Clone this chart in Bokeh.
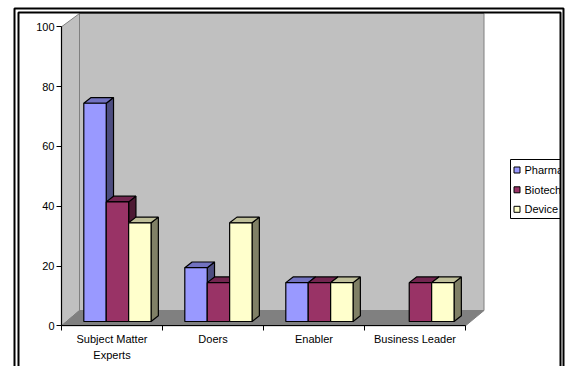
from bokeh.embed import file_html
from bokeh.models import FixedTicker, LinearAxis
from bokeh.plotting import figure
from bokeh.resources import INLINE
from bokeh.core.properties import value

# Chart values
categories = ["Subject Matter\nExperts", "Doers", "Enabler", "Business Leader"]
series_names = ["Pharma", "Biotech", "Device"]
pharma = [73, 18, 13, 0]
biotech = [40, 13, 13, 13]
device = [33, 33, 13, 13]
y_ticks = [0, 20, 40, 60, 80, 100]

# Face colours per series: front, top, side
front_colors = ["#9999FF", "#993366", "#FFFFCC"]
top_colors = ["#7272C0", "#732650", "#BFBF99"]
side_colors = ["#4D4D80", "#4D1A33", "#808066"]

WIDTH, HEIGHT = 568, 366
X0_PX, Y0_PX = 61.0, 325.3   # where the axes cross
PX_PER_CAT = 101.0
PX_PER_UNIT = 2.99
FONT = "Liberation Sans"


def dx(px):
    return px / PX_PER_CAT


def dy(px):
    return px / PX_PER_UNIT


def X(px):
    return (px - X0_PX) / PX_PER_CAT


def Y(py):
    return (Y0_PX - py) / PX_PER_UNIT


p = figure(
    width=WIDTH, height=HEIGHT, output_backend="svg", toolbar_location=None,
    x_range=(X(0), X(WIDTH)), y_range=(Y(HEIGHT), Y(0)),
    x_axis_type=None, y_axis_type=None, min_border=0,
    outline_line_color=None, background_fill_color="white",
)
p.xgrid.visible = False
p.ygrid.visible = False

# Chart box: back wall, left wall, floor
wall_back, floor_y = X(79), Y(310)
wall_right, wall_top = X(483.5), Y(13)
p.patches(
    xs=[[wall_back, wall_right, wall_right, wall_back],
        [0, wall_back, wall_back, 0],
        [0, 4, wall_right, wall_back]],
    ys=[[floor_y, floor_y, wall_top, wall_top],
        [0, floor_y, wall_top, 100],
        [0, 0, floor_y, floor_y]],
    fill_color=["#C0C0C0", "#C0C0C0", "#808080"],
    line_color="#808080", line_width=1,
)

# 3D bars, painted left to right so nearer faces overlap correctly
BAR_W = 0.222
BAR_START = 0.2208
BASE = dy(Y0_PX - 321)
DEPTH_X, DEPTH_Y = dx(7.3), dy(5.7)
xs, ys, fills = [], [], []
for c in range(len(categories)):
    for s, values in enumerate([pharma, biotech, device]):
        v = values[c]
        if v == 0:
            continue
        l = c + BAR_START + s * BAR_W
        r = l + BAR_W
        t = BASE + v
        xs += [[r, r + DEPTH_X, r + DEPTH_X, r],
               [l, l + DEPTH_X, r + DEPTH_X, r],
               [l, r, r, l]]
        ys += [[BASE, BASE + DEPTH_Y, t + DEPTH_Y, t],
               [t, t + DEPTH_Y, t + DEPTH_Y, t],
               [BASE, BASE, t, t]]
        fills += [side_colors[s], top_colors[s], front_colors[s]]
p.patches(xs=xs, ys=ys, fill_color=fills, line_color="black", line_width=1.2)

# Value axis
y_axis = LinearAxis(
    fixed_location=0, bounds=(0, 100), ticker=FixedTicker(ticks=y_ticks),
    major_tick_in=0, major_tick_out=5, minor_tick_in=0, minor_tick_out=0,
    major_tick_line_color="black", axis_line_color="black", axis_line_width=1.2,
    major_label_standoff=2, major_label_text_font=FONT,
    major_label_text_font_size="11px", major_label_text_color="black",
)
p.add_layout(y_axis, "left")

# Category axis: tick marks on the boundaries, labels in a second axis at the centres
x_ticks_axis = LinearAxis(
    fixed_location=0, bounds=(0, len(categories)),
    ticker=FixedTicker(ticks=list(range(len(categories) + 1))),
    major_tick_in=0, major_tick_out=5, minor_tick_in=0, minor_tick_out=0,
    major_tick_line_color="black", axis_line_color="black", axis_line_width=1.2,
    major_label_text_color=None, major_label_text_font_size="1px",
)
p.add_layout(x_ticks_axis, "below")

centers = [i + 0.5 for i in range(len(categories))]
x_label_axis = LinearAxis(
    fixed_location=0, ticker=FixedTicker(ticks=centers),
    major_label_overrides={c: n for c, n in zip(centers, categories)},
    major_tick_in=0, major_tick_out=0, minor_tick_in=0, minor_tick_out=0,
    axis_line_color=None, major_label_standoff=7,
    major_label_text_font=FONT, major_label_text_font_size="11px",
    major_label_text_color="black", major_label_text_line_height=1.35,
)
p.add_layout(x_label_axis, "below")

# Legend box, swatches and entries
p.quad(left=[X(510)], right=[X(575)], top=[Y(159)], bottom=[Y(218)],
       fill_color="white", line_color="black", line_width=1)
legend_rows_px = [169.5, 189.3, 208.8]
p.quad(
    left=[X(513.5)] * 3, right=[X(519.5)] * 3,
    top=[Y(r - 3) for r in legend_rows_px],
    bottom=[Y(r + 3) for r in legend_rows_px],
    fill_color=front_colors, line_color="black", line_width=1,
)
p.text(
    x=[X(524)] * 3, y=[Y(r) for r in legend_rows_px], text=series_names,
    text_font=value(FONT), text_font_size="11px", text_color="black",
    text_baseline="middle", text_align="left",
)

# Double frame round the chart, which runs past the bottom of the page
p.quad(left=[X(560)], right=[X(575)], top=[Y(0)], bottom=[Y(HEIGHT)],
       fill_color="white", line_color=None)
p.quad(left=[X(14)], right=[X(563)], top=[Y(8)], bottom=[Y(HEIGHT + 10)],
       fill_color=None, line_color="black", line_width=2)
p.quad(left=[X(18)], right=[X(560)], top=[Y(12)], bottom=[Y(HEIGHT + 10)],
       fill_color=None, line_color="black", line_width=2)

open("out.html", "w").write(file_html(p, INLINE))
